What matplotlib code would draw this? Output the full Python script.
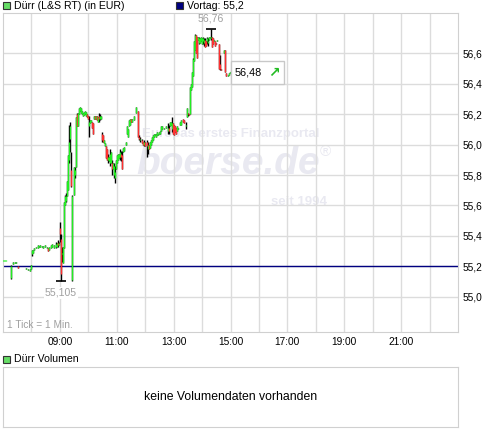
import numpy as np
import matplotlib.pyplot as plt
from matplotlib.patches import Rectangle
from matplotlib.offsetbox import TextArea, HPacker, AnnotationBbox

plt.rcParams['font.family'] = ['Liberation Sans', 'DejaVu Sans']

# Dürr (L&S RT), Minutenkerzen
times = [
    "07:00", "07:02", "07:04", "07:06", "07:16", "07:21", "07:25", "07:28", "07:32", "07:49",
    "07:53", "07:57", "07:59", "08:01", "08:03", "08:06", "08:10", "08:13", "08:16", "08:19",
    "08:22", "08:25", "08:29", "08:32", "08:35", "08:38", "08:41", "08:44", "08:48", "08:51",
    "08:54", "08:56", "08:58", "09:00", "09:02", "09:04", "09:07", "09:09", "09:11", "09:13",
    "09:15", "09:17", "09:19", "09:21", "09:23", "09:25", "09:30", "09:32", "09:34", "09:36",
    "09:38", "09:40", "09:42", "09:45", "09:47", "09:49", "09:51", "09:53", "09:55", "09:57",
    "09:59", "10:01", "10:03", "10:06", "10:08", "10:10", "10:12", "10:14", "10:16", "10:18",
    "10:20", "10:22", "10:25", "10:27", "10:29", "10:31", "10:33", "10:35", "10:37", "10:39",
    "10:41", "10:44", "10:46", "10:48", "10:50", "10:52", "10:54", "10:56", "10:58", "11:00",
    "11:03", "11:05", "11:07", "11:09", "11:11", "11:13", "11:15", "11:19", "11:22", "11:24",
    "11:26", "11:28", "11:30", "11:32", "11:36", "11:41", "11:45", "11:47", "11:49", "11:53",
    "11:55", "11:57", "11:59", "12:04", "12:06", "12:08", "12:10", "12:12", "12:14", "12:16",
    "12:19", "12:21", "12:23", "12:25", "12:27", "12:29", "12:31", "12:33", "12:35", "12:40",
    "12:44", "12:48", "12:50", "12:52", "12:54", "12:56", "12:59", "13:01", "13:03", "13:05",
    "13:07", "13:09", "13:13", "13:15", "13:20", "13:22", "13:26", "13:28", "13:30", "13:32",
    "13:34", "13:37", "13:39", "13:41", "13:43", "13:45", "13:47", "13:49", "13:51", "13:53",
    "13:55", "13:58", "14:00", "14:02", "14:04", "14:06", "14:08", "14:10", "14:12", "14:14",
    "14:17", "14:19", "14:21", "14:23", "14:25", "14:27", "14:29", "14:31", "14:36", "14:38",
    "14:40", "14:46", "14:48", "14:50", "14:54", "14:57", "14:59", "15:01",
]
opens = [
    55.24, 55.24, 55.24, 55.24, 55.12, 55.215, 55.22, 55.22, 55.20, 55.18,
    55.175, 55.17, 55.18, 55.28, 55.29, 55.31, 55.32, 55.32, 55.33, 55.325,
    55.33, 55.32, 55.33, 55.32, 55.32, 55.31, 55.32, 55.33, 55.32, 55.33,
    55.33, 55.355, 55.34, 55.45, 55.38, 55.28, 55.22, 55.32, 55.60, 55.63,
    55.66, 55.70, 55.90, 56.04, 55.83, 55.11, 55.67, 55.80, 55.85, 56.20,
    56.12, 56.20, 56.22, 56.21, 56.20, 56.19, 56.195, 56.20, 56.19, 56.20,
    56.19, 56.12, 56.14, 56.15, 56.15, 56.14, 56.17, 56.19, 56.17, 56.19,
    56.15, 56.19, 56.17, 56.17, 56.07, 56.06, 56.01, 55.99, 55.99, 55.97,
    55.90, 55.89, 55.88, 55.88, 55.88, 55.84, 55.80, 55.78, 55.84, 55.88,
    55.90, 55.91, 55.92, 55.94, 55.93, 55.95, 55.96, 56.00, 56.07, 56.05,
    56.12, 56.13, 56.17, 56.15, 56.16, 56.21, 56.22, 56.05, 56.03, 56.03,
    56.02, 56.00, 56.02, 56.02, 55.97, 56.00, 55.98, 56.00, 56.02, 56.03,
    56.05, 56.06, 56.05, 56.06, 56.06, 56.07, 56.07, 56.09, 56.10, 56.10,
    56.11, 56.09, 56.11, 56.12, 56.13, 56.10, 56.14, 56.13, 56.12, 56.11,
    56.09, 56.10, 56.13, 56.13, 56.17, 56.16, 56.12, 56.18, 56.21, 56.20,
    56.20, 56.36, 56.38, 56.45, 56.55, 56.62, 56.72, 56.71, 56.69, 56.67,
    56.67, 56.68, 56.66, 56.68, 56.67, 56.69, 56.68, 56.68, 56.67, 56.69,
    56.70, 56.70, 56.71, 56.70, 56.68, 56.68, 56.67, 56.68, 56.66, 56.53,
    56.50, 56.60, 56.62, 56.47, 56.45, 56.46, 56.47, 56.475,
]
highs = [
    55.24, 55.24, 55.24, 55.24, 55.207, 55.225, 55.225, 55.23, 55.20, 55.19,
    55.185, 55.18, 55.21, 55.31, 55.31, 55.32, 55.33, 55.34, 55.335, 55.34,
    55.335, 55.335, 55.34, 55.33, 55.32, 55.33, 55.34, 55.345, 55.34, 55.36,
    55.355, 55.37, 55.36, 55.49, 55.41, 55.33, 55.33, 55.62, 55.67, 55.68,
    55.76, 55.93, 56.13, 56.15, 55.95, 55.67, 55.85, 55.85, 56.18, 56.21,
    56.21, 56.24, 56.25, 56.24, 56.22, 56.21, 56.215, 56.22, 56.215, 56.20,
    56.19, 56.19, 56.16, 56.16, 56.15, 56.14, 56.19, 56.19, 56.19, 56.19,
    56.18, 56.21, 56.20, 56.19, 56.08, 56.06, 56.03, 56.01, 55.99, 55.97,
    55.94, 55.92, 55.97, 55.95, 55.90, 55.88, 55.88, 55.86, 55.90, 55.93,
    55.94, 55.94, 55.97, 55.96, 55.96, 55.98, 55.985, 56.02, 56.12, 56.10,
    56.16, 56.17, 56.17, 56.17, 56.19, 56.25, 56.22, 56.06, 56.05, 56.04,
    56.02, 56.03, 56.02, 56.03, 56.02, 56.00, 56.02, 56.03, 56.05, 56.06,
    56.07, 56.07, 56.07, 56.08, 56.07, 56.08, 56.09, 56.12, 56.12, 56.11,
    56.12, 56.14, 56.13, 56.15, 56.15, 56.18, 56.14, 56.13, 56.12, 56.11,
    56.12, 56.11, 56.15, 56.16, 56.17, 56.16, 56.15, 56.24, 56.21, 56.20,
    56.38, 56.40, 56.48, 56.57, 56.68, 56.725, 56.72, 56.71, 56.71, 56.71,
    56.70, 56.71, 56.70, 56.71, 56.70, 56.70, 56.68, 56.71, 56.70, 56.71,
    56.71, 56.76, 56.71, 56.70, 56.69, 56.68, 56.67, 56.69, 56.66, 56.59,
    56.50, 56.62, 56.62, 56.47, 56.46, 56.47, 56.48, 56.48,
]
lows = [
    55.24, 55.24, 55.24, 55.24, 55.117, 55.215, 55.22, 55.22, 55.19, 55.18,
    55.175, 55.17, 55.18, 55.27, 55.29, 55.31, 55.32, 55.32, 55.33, 55.325,
    55.33, 55.32, 55.33, 55.32, 55.30, 55.31, 55.32, 55.33, 55.32, 55.32,
    55.33, 55.33, 55.34, 55.36, 55.105, 55.23, 55.22, 55.32, 55.60, 55.62,
    55.66, 55.70, 55.88, 55.95, 55.72, 55.105, 55.67, 55.78, 55.85, 56.12,
    56.12, 56.20, 56.22, 56.21, 56.20, 56.19, 56.195, 56.20, 56.19, 56.18,
    56.17, 56.05, 56.14, 56.15, 56.11, 56.07, 56.17, 56.17, 56.17, 56.16,
    56.15, 56.15, 56.16, 56.17, 56.02, 56.02, 56.01, 55.99, 55.91, 55.90,
    55.88, 55.89, 55.86, 55.88, 55.80, 55.84, 55.78, 55.75, 55.84, 55.88,
    55.90, 55.91, 55.90, 55.89, 55.84, 55.95, 55.96, 56.00, 56.07, 56.05,
    56.12, 56.13, 56.15, 56.15, 56.16, 56.21, 56.05, 56.03, 56.02, 56.01,
    56.00, 55.99, 55.99, 55.92, 55.94, 55.97, 55.98, 56.00, 56.02, 56.03,
    56.05, 56.06, 56.05, 56.06, 56.06, 56.07, 56.07, 56.09, 56.10, 56.10,
    56.11, 56.07, 56.07, 56.12, 56.13, 56.08, 56.07, 56.06, 56.08, 56.07,
    56.09, 56.10, 56.13, 56.13, 56.15, 56.14, 56.10, 56.18, 56.19, 56.195,
    56.20, 56.36, 56.38, 56.45, 56.55, 56.62, 56.60, 56.57, 56.69, 56.66,
    56.67, 56.68, 56.66, 56.66, 56.65, 56.64, 56.65, 56.66, 56.65, 56.69,
    56.70, 56.69, 56.64, 56.66, 56.68, 56.65, 56.66, 56.68, 56.50, 56.49,
    56.49, 56.60, 56.48, 56.45, 56.45, 56.46, 56.47, 56.475,
]
closes = [
    55.24, 55.24, 55.24, 55.24, 55.20, 55.225, 55.225, 55.23, 55.19, 55.19,
    55.185, 55.18, 55.21, 55.31, 55.31, 55.32, 55.33, 55.34, 55.335, 55.34,
    55.335, 55.335, 55.34, 55.33, 55.30, 55.33, 55.34, 55.345, 55.34, 55.345,
    55.355, 55.34, 55.35, 55.41, 55.15, 55.29, 55.33, 55.62, 55.66, 55.66,
    55.76, 55.93, 56.02, 56.12, 55.73, 55.66, 55.85, 55.83, 56.18, 56.12,
    56.21, 56.24, 56.25, 56.24, 56.22, 56.21, 56.215, 56.22, 56.215, 56.18,
    56.17, 56.15, 56.16, 56.16, 56.11, 56.07, 56.19, 56.17, 56.19, 56.16,
    56.18, 56.17, 56.19, 56.19, 56.03, 56.02, 56.03, 56.01, 55.91, 55.90,
    55.92, 55.92, 55.94, 55.95, 55.84, 55.88, 55.86, 55.82, 55.90, 55.93,
    55.94, 55.94, 55.95, 55.92, 55.84, 55.98, 55.985, 56.02, 56.12, 56.10,
    56.16, 56.17, 56.15, 56.17, 56.19, 56.25, 56.05, 56.04, 56.04, 56.01,
    56.00, 56.02, 55.99, 55.99, 56.00, 55.97, 56.02, 56.03, 56.05, 56.06,
    56.07, 56.07, 56.07, 56.08, 56.07, 56.08, 56.09, 56.12, 56.12, 56.11,
    56.12, 56.11, 56.09, 56.15, 56.15, 56.14, 56.07, 56.06, 56.08, 56.07,
    56.12, 56.11, 56.15, 56.16, 56.15, 56.14, 56.13, 56.24, 56.20, 56.195,
    56.38, 56.40, 56.48, 56.56, 56.68, 56.72, 56.60, 56.57, 56.71, 56.70,
    56.70, 56.71, 56.70, 56.70, 56.69, 56.64, 56.65, 56.70, 56.68, 56.71,
    56.71, 56.71, 56.64, 56.66, 56.69, 56.65, 56.66, 56.69, 56.50, 56.50,
    56.49, 56.62, 56.48, 56.45, 56.46, 56.47, 56.48, 56.48,
]

prev_close = 55.2
y_ticks = [55.0, 55.2, 55.4, 55.6, 55.8, 56.0, 56.2, 56.4, 56.6]
x_labels = ["09:00", "11:00", "13:00", "15:00", "17:00", "19:00", "21:00"]
name = "Dürr"

W, H = 500, 436


def fx(px):
    return px / W


def fy(py):
    return 1 - py / H


def minutes(s):
    h, m = s.split(":")
    return int(h) * 60 + int(m)


def de(v):
    return ("%g" % v).replace(".", ",")


t = np.array([minutes(s) for s in times])
o = np.array(opens)
h = np.array(highs)
l = np.array(lows)
c = np.array(closes)

grid_col = "#dcdcdc"
green = "#22ee22"
red = "#ff3030"
wm = "#e9e9f1"

fig = plt.figure(figsize=(5, 4.36), dpi=100)
ax = fig.add_axes([fx(3), fy(332), fx(458) - fx(3), (332 - 13) / H])
ax.set_xlim(420, 1380)
ax.set_ylim(54.768, 56.865)
ax.set_axisbelow(True)

ax.set_xticks([minutes(s) for s in x_labels])
ax.set_xticklabels(x_labels)
ax.set_xticks(range(480, 1321, 60), minor=True)
ax.set_yticks(y_ticks)
ax.set_yticklabels([("%.1f" % v).replace(".", ",") for v in y_ticks])
ax.yaxis.tick_right()
ax.tick_params(axis="both", which="both", length=0, labelsize=7.3)
ax.tick_params(axis="x", pad=3.5)
ax.tick_params(axis="y", pad=3)
ax.grid(True, which="both", color=grid_col, lw=1)
for sp in ax.spines.values():
    sp.set_color("#d0d0d0")

# watermark
ax.text(fx(231), fy(134), "Europas erstes Finanzportal", transform=fig.transFigure,
        ha="center", va="center", fontsize=9.5, fontweight="bold", color=wm, zorder=0.2)
ax.text(fx(228), fy(164), "boerse.de", transform=fig.transFigure, ha="center", va="center",
        fontsize=28, fontweight="bold", style="italic", color=wm, zorder=0.2)
ax.text(fx(325), fy(152), "®", transform=fig.transFigure, ha="center", va="center",
        fontsize=11, color=wm, zorder=0.2)
ax.text(fx(299), fy(202), "seit 1994", transform=fig.transFigure, ha="center", va="center",
        fontsize=9.5, fontweight="bold", color=wm, zorder=0.2)

ax.axhline(prev_close, color="#000080", lw=1, zorder=1.5)

# candles: black wick, coloured body
ax.vlines(t, l, h, color="black", lw=1, zorder=3)
mid = (o + c) / 2
half = np.maximum(np.abs(c - o) / 2, 0.0035)
cols = [green if ci >= oi else red for oi, ci in zip(o, c)]
ax.vlines(t, mid - half, mid + half, colors=cols, lw=1, zorder=4)

# day high / low
ih = int(np.argmax(h))
il = int(np.argmin(l))
ax.plot(t[ih], h[ih], marker="_", ms=7, mew=1.2, color="black", zorder=5)
ax.annotate(de(h[ih]), (t[ih], h[ih]), xytext=(0, 5), textcoords="offset pixels",
            ha="center", va="bottom", fontsize=7.6, color="#a0a0a0", zorder=6)
ax.plot(t[il], l[il], marker="_", ms=7, mew=1.2, color="black", zorder=5)
ax.annotate(de(l[il]), (t[il], l[il]), xytext=(0, -7), textcoords="offset pixels",
            ha="center", va="top", fontsize=7.6, color="#a0a0a0", zorder=6,
            bbox=dict(boxstyle="square,pad=0.1", fc="white", ec="none"))

# last price box
ta1 = TextArea(de(c[-1]), textprops=dict(color="black", fontsize=7.8))
ta2 = TextArea("↗", textprops=dict(color="#22bb22", fontsize=10, fontweight="bold",
                                   family="DejaVu Sans"))
pack = HPacker(children=[ta1, ta2], pad=0, sep=4, align="center")
ab = AnnotationBbox(pack, (t[-1], c[-1]), xybox=(4, -1), xycoords="data",
                    boxcoords="offset pixels", box_alignment=(0, 0.5), frameon=True,
                    pad=0.3, bboxprops=dict(ec="#c8c8c8", fc="white", lw=1), zorder=7)
ax.add_artist(ab)

ax.text(fx(7), fy(325), "1 Tick = 1 Min.", transform=fig.transFigure, ha="left",
        va="center", fontsize=7.3, color="#a0a0a0")

# legend top
fig.add_artist(Rectangle((fx(3), fy(9.5)), 7 / W, 7 / H, transform=fig.transFigure,
                         fc="#66dd66", ec="#333333", lw=0.8))
fig.text(fx(14), fy(6), name + " (L&S RT) (in EUR)", ha="left", va="center", fontsize=7.6)
fig.add_artist(Rectangle((fx(176), fy(9.5)), 7 / W, 7 / H, transform=fig.transFigure,
                         fc="#000080", ec="#333333", lw=0.8))
fig.text(fx(187), fy(6), "Vortag: " + de(prev_close), ha="left", va="center", fontsize=7.6)

# volume panel
fig.add_artist(Rectangle((fx(3), fy(362.5)), 7 / W, 7 / H, transform=fig.transFigure,
                         fc="#66dd66", ec="#333333", lw=0.8))
fig.text(fx(14), fy(359), name + " Volumen", ha="left", va="center", fontsize=7.6)
vax = fig.add_axes([fx(3), fy(427), fx(458) - fx(3), 60 / H])
vax.set_xticks([])
vax.set_yticks([])
for sp in vax.spines.values():
    sp.set_color("#d0d0d0")
vax.text(0.5, 0.5, "keine Volumendaten vorhanden", transform=vax.transAxes,
         ha="center", va="center", fontsize=8.8)

fig.savefig("out.png", dpi=100)
